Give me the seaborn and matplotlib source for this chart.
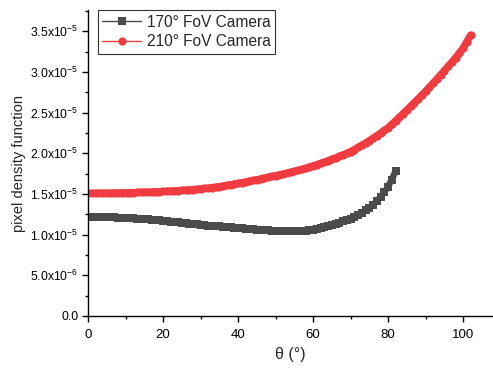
import numpy as np
import pandas as pd
import matplotlib
matplotlib.use("Agg")
import matplotlib.pyplot as plt
import seaborn as sns
from matplotlib.ticker import MultipleLocator, FixedLocator, FixedFormatter

SCALE = 1e-5

theta_170 = list(range(0, 83))
pdf_170 = [
    1.218, 1.218, 1.217, 1.217, 1.216, 1.215, 1.213, 1.212, 1.210, 1.208,
    1.205, 1.203, 1.200, 1.197, 1.194, 1.190, 1.186, 1.182, 1.178, 1.174,
    1.170, 1.165, 1.160, 1.155, 1.150, 1.145, 1.140, 1.135, 1.130, 1.125,
    1.120, 1.116, 1.112, 1.108, 1.104, 1.100, 1.096, 1.092, 1.088, 1.084,
    1.080, 1.076, 1.072, 1.068, 1.064, 1.060, 1.057, 1.054, 1.051, 1.048,
    1.045, 1.042, 1.040, 1.039, 1.039, 1.040, 1.042, 1.045, 1.049, 1.054,
    1.060, 1.070, 1.080, 1.092, 1.105, 1.118, 1.132, 1.147, 1.162, 1.178,
    1.195, 1.218, 1.243, 1.270, 1.298, 1.330, 1.365, 1.410, 1.460, 1.520,
    1.590, 1.675, 1.780,
]

theta_210 = list(range(0, 103))
pdf_210 = [
    1.507, 1.507, 1.508, 1.508, 1.509, 1.510, 1.511, 1.512, 1.513, 1.514,
    1.515, 1.516, 1.517, 1.518, 1.520, 1.521, 1.523, 1.525, 1.527, 1.528,
    1.530, 1.532, 1.535, 1.538, 1.541, 1.544, 1.547, 1.551, 1.554, 1.558,
    1.562, 1.567, 1.572, 1.578, 1.584, 1.590, 1.597, 1.605, 1.613, 1.621,
    1.630, 1.638, 1.647, 1.656, 1.665, 1.675, 1.685, 1.695, 1.705, 1.715,
    1.725, 1.735, 1.745, 1.756, 1.767, 1.778, 1.790, 1.803, 1.816, 1.830,
    1.845, 1.860, 1.876, 1.892, 1.909, 1.926, 1.944, 1.962, 1.981, 2.000,
    2.020, 2.045, 2.071, 2.098, 2.126, 2.155, 2.185, 2.216, 2.248, 2.280,
    2.312, 2.355, 2.398, 2.442, 2.486, 2.531, 2.576, 2.621, 2.667, 2.713,
    2.760, 2.810, 2.860, 2.911, 2.962, 3.014, 3.066, 3.119, 3.173, 3.230,
    3.290, 3.370, 3.450,
]

y_ticks = [0.0, 0.5, 1.0, 1.5, 2.0, 2.5, 3.0, 3.5]
y_tick_labels = ["0.0", r"5.0x10$^{-6}$", r"1.0x10$^{-5}$", r"1.5x10$^{-5}$",
                 r"2.0x10$^{-5}$", r"2.5x10$^{-5}$", r"3.0x10$^{-5}$", r"3.5x10$^{-5}$"]
x_ticks = [0, 20, 40, 60, 80, 100]

label_170 = "170° FoV Camera"
label_210 = "210° FoV Camera"

df170 = pd.DataFrame({"theta": theta_170, "pdf": np.array(pdf_170) * SCALE})
df210 = pd.DataFrame({"theta": theta_210, "pdf": np.array(pdf_210) * SCALE})

sns.set_style("ticks")
plt.rcParams['font.family'] = ['Liberation Sans', 'DejaVu Sans']
plt.rcParams['mathtext.fontset'] = 'custom'
plt.rcParams['mathtext.rm'] = 'Liberation Sans'
plt.rcParams['mathtext.it'] = 'Liberation Sans'

fig = plt.figure(figsize=(4.93, 3.69), dpi=100)
ax = fig.add_axes([88 / 493, 1 - 316 / 369, 1 - 88 / 493, (316 - 10) / 369])

c170 = "#4b4b4b"
c210 = "#f03c40"
sns.lineplot(data=df170, x="theta", y="pdf", ax=ax, color=c170, marker="s",
             markersize=5.2, markeredgewidth=0, linewidth=4.6, label=label_170)
sns.lineplot(data=df210, x="theta", y="pdf", ax=ax, color=c210, marker="o",
             markersize=5.9, markeredgewidth=0, linewidth=5.2, label=label_210)

ax.set_xlim(0, 108)
ax.set_ylim(0, 3.76 * SCALE)
ax.xaxis.set_major_locator(FixedLocator(x_ticks))
ax.xaxis.set_minor_locator(MultipleLocator(10))
ax.yaxis.set_major_locator(FixedLocator([v * SCALE for v in y_ticks]))
ax.yaxis.set_major_formatter(FixedFormatter(y_tick_labels))
ax.yaxis.set_minor_locator(MultipleLocator(0.25 * SCALE))

for side in ["top", "right"]:
    ax.spines[side].set_visible(False)
for side in ["left", "bottom"]:
    ax.spines[side].set_linewidth(1.0)
    ax.spines[side].set_color("black")

ax.tick_params(which="major", direction="out", length=4, width=1,
               colors="black")
ax.tick_params(which="minor", direction="out", length=2.5, width=1, colors="black")
ax.tick_params(axis="x", which="major", labelsize=9.5, pad=5)
ax.tick_params(axis="y", which="major", labelsize=8.8, pad=3)

ax.set_xlabel("θ (°)", fontsize=11.5, labelpad=5)
ax.set_ylabel("pixel density function", fontsize=10.5, labelpad=3)

leg = ax.legend(loc="upper left", bbox_to_anchor=(0.024, 1.0), fontsize=11.2,
                frameon=True, fancybox=False, borderpad=0.3, handlelength=2.5,
                handletextpad=0.35, labelspacing=0.3, borderaxespad=0.0)
leg.get_frame().set_edgecolor("black")
leg.get_frame().set_linewidth(0.8)
for h in leg.get_lines():
    h.set_linewidth(1.0)

fig.savefig("out.png", dpi=100)
